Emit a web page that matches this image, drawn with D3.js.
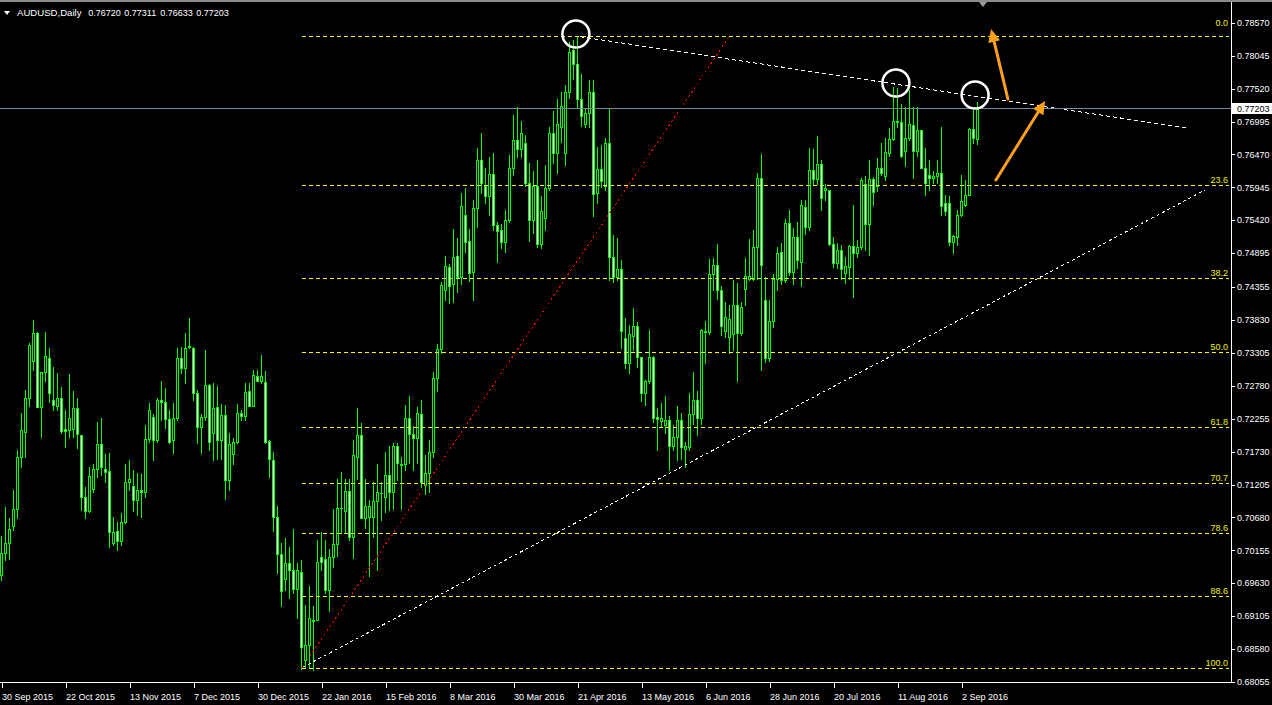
<!DOCTYPE html>
<html><head><meta charset="utf-8">
<script src="https://cdn.jsdelivr.net/npm/d3@7"></script>
<style>
html,body{margin:0;padding:0;background:#000;overflow:hidden}
svg{display:block}
text{font-family:"Liberation Sans",Arial,sans-serif}
</style></head><body>
<svg id="c" width="1272" height="705"></svg>
<script>
// ---------- DATA ----------
const symbolTitle = "AUDUSD,Daily";
const headerValues = ["0.76720","0.77311","0.76633","0.77203"];
const opens = [.6976,.7012,.7028,.7055,.7081,.7164,.7205,.7258,.7317,.7362,.7244,.7300,.7323,.7255,.7246,.7258,.7209,.7208,.7209,.7242,
.7199,.7100,.7079,.7113,.7145,.7185,.7146,.7142,.7027,.7046,.7030,.7060,.7124,.7118,.7095,.7111,.7109,.7193,.7228,.7191,
.7255,.7252,.7225,.7191,.7226,.7322,.7307,.7340,.7338,.7266,.7213,.7228,.7279,.7203,.7244,.7191,.7231,.7127,.7169,.7188,
.7234,.7230,.7270,.7246,.7293,.7285,.7284,.7190,.7160,.7069,.7009,.6969,.6995,.6984,.6954,.6981,.6840,.6864,.6905,.6905,
.7005,.7001,.6953,.7005,.7026,.7083,.7079,.7110,.7037,.7165,.7199,.7067,.7068,.7068,.7094,.7107,.7101,.7136,.7109,.7182,
.7154,.7154,.7226,.7201,.7194,.7233,.7120,.7139,.7173,.7290,.7336,.7430,.7468,.7440,.7485,.7452,.7550,.7509,.7460,.7561,
.7638,.7596,.7580,.7616,.7534,.7526,.7508,.7542,.7625,.7670,.7655,.7666,.7602,.7542,.7597,.7504,.7545,.7593,.7681,.7650,
.7690,.7649,.7746,.7814,.7791,.7735,.7695,.7713,.7746,.7586,.7623,.7596,.7666,.7483,.7452,.7464,.7354,.7315,.7358,.7374,
.7324,.7266,.7286,.7324,.7228,.7222,.7215,.7223,.7182,.7197,.7224,.7177,.7181,.7233,.7256,.7227,.7363,.7364,.7456,.7471,
.7431,.7365,.7356,.7361,.7407,.7362,.7432,.7449,.7449,.7500,.7610,.7415,.7323,.7381,.7449,.7492,.7447,.7537,.7460,.7516,
.7476,.7563,.7531,.7622,.7607,.7632,.7591,.7591,.7504,.7474,.7495,.7458,.7468,.7501,.7490,.7499,.7600,.7536,.7608,.7596,
.7626,.7612,.7650,.7672,.7700,.7699,.7653,.7673,.7694,.7653,.7686,.7625,.7614,.7610,.7612,.7617,.7569,.7569,.7508,.7516,
.7550,.7566,.7582,.7687,.7672];
const highs = [.7038,.7085,.7067,.7112,.7176,.7234,.7271,.7346,.7383,.7364,.7300,.7364,.7338,.7308,.7298,.7276,.7239,.7297,.7269,.7258,
.7199,.7117,.7149,.7154,.7221,.7226,.7169,.7170,.7069,.7061,.7075,.7154,.7160,.7144,.7139,.7138,.7216,.7250,.7233,.7258,
.7285,.7274,.7239,.7250,.7338,.7340,.7362,.7386,.7340,.7272,.7233,.7335,.7281,.7283,.7278,.7249,.7247,.7202,.7194,.7249,
.7239,.7282,.7282,.7303,.7303,.7327,.7302,.7191,.7173,.7086,.7027,.7035,.7021,.7049,.6996,.7000,.6928,.6958,.6926,.7032,
.7045,.7032,.7017,.7081,.7129,.7140,.7129,.7130,.7192,.7242,.7219,.7130,.7096,.7125,.7153,.7125,.7173,.7182,.7187,.7186,
.7165,.7247,.7261,.7214,.7244,.7256,.7168,.7192,.7300,.7345,.7444,.7485,.7473,.7528,.7513,.7585,.7593,.7528,.7575,.7657,
.7681,.7626,.7643,.7649,.7539,.7536,.7558,.7646,.7710,.7722,.7701,.7678,.7633,.7621,.7638,.7580,.7630,.7691,.7717,.7736,
.7747,.7758,.7827,.7830,.7835,.7776,.7719,.7765,.7766,.7659,.7662,.7673,.7719,.7519,.7513,.7479,.7386,.7375,.7402,.7380,
.7324,.7287,.7367,.7325,.7242,.7250,.7261,.7229,.7215,.7245,.7235,.7189,.7267,.7300,.7270,.7369,.7382,.7480,.7481,.7504,
.7437,.7412,.7407,.7447,.7442,.7412,.7482,.7512,.7526,.7617,.7648,.7452,.7415,.7457,.7500,.7505,.7544,.7558,.7530,.7540,
.7574,.7575,.7658,.7656,.7677,.7638,.7600,.7591,.7516,.7505,.7503,.7484,.7503,.7566,.7510,.7609,.7612,.7638,.7611,.7641,
.7666,.7673,.7689,.7755,.7753,.7728,.7723,.7750,.7723,.7723,.7686,.7657,.7638,.7620,.7638,.7691,.7582,.7580,.7518,.7558,
.7614,.7606,.7689,.7718,.7731];
const lows = [.6968,.7000,.7001,.7048,.7067,.7149,.7164,.7245,.7303,.7244,.7197,.7285,.7252,.7239,.7239,.7202,.7181,.7197,.7197,.7178,
.7080,.7067,.7077,.7108,.7133,.7136,.7125,.7021,.7024,.7016,.7024,.7059,.7112,.7079,.7072,.7068,.7101,.7189,.7159,.7189,
.7223,.7210,.7186,.7171,.7223,.7299,.7283,.7338,.7256,.7187,.7171,.7223,.7176,.7160,.7161,.7161,.7097,.7112,.7153,.7187,
.7223,.7223,.7245,.7245,.7285,.7283,.7186,.7132,.7047,.6980,.6926,.6952,.6939,.6947,.6907,.6827,.6830,.6830,.6825,.6904,
.6984,.6947,.6918,.6989,.7006,.7043,.7043,.7032,.7003,.7130,.7067,.7051,.6974,.7037,.6984,.7064,.7077,.7080,.7082,.7128,
.7082,.7144,.7155,.7144,.7155,.7117,.7106,.7108,.7165,.7270,.7330,.7415,.7410,.7411,.7427,.7441,.7492,.7445,.7414,.7531,
.7585,.7569,.7550,.7526,.7476,.7497,.7492,.7540,.7614,.7643,.7643,.7596,.7509,.7521,.7500,.7497,.7527,.7590,.7633,.7618,
.7667,.7630,.7737,.7767,.7723,.7693,.7691,.7691,.7548,.7569,.7595,.7590,.7447,.7444,.7447,.7338,.7306,.7298,.7335,.7308,
.7253,.7247,.7282,.7221,.7176,.7213,.7202,.7144,.7176,.7160,.7161,.7149,.7176,.7217,.7199,.7217,.7314,.7361,.7430,.7416,
.7359,.7356,.7330,.7335,.7285,.7359,.7407,.7447,.7447,.7449,.7303,.7316,.7318,.7372,.7431,.7440,.7444,.7455,.7440,.7466,
.7437,.7520,.7527,.7600,.7600,.7558,.7575,.7503,.7468,.7466,.7449,.7442,.7449,.7420,.7484,.7496,.7495,.7487,.7566,.7588,
.7614,.7606,.7644,.7670,.7690,.7643,.7628,.7670,.7609,.7645,.7625,.7582,.7590,.7601,.7601,.7550,.7550,.7502,.7489,.7503,
.7548,.7564,.7582,.7665,.7663];
const closes = [.7012,.7028,.7049,.7081,.7164,.7207,.7258,.7343,.7362,.7244,.7300,.7326,.7266,.7248,.7258,.7206,.7206,.7226,.7242,.7201,
.7100,.7079,.7134,.7145,.7185,.7148,.7141,.7045,.7045,.7030,.7060,.7124,.7129,.7095,.7111,.7109,.7193,.7239,.7191,.7255,
.7252,.7225,.7189,.7226,.7322,.7307,.7339,.7341,.7266,.7213,.7228,.7279,.7189,.7242,.7191,.7231,.7127,.7185,.7188,.7234,
.7230,.7268,.7246,.7295,.7285,.7293,.7189,.7161,.7069,.7009,.6950,.6995,.6984,.6954,.6984,.6862,.6864,.6907,.6903,.6997,
.6997,.6953,.7005,.7026,.7083,.7083,.7110,.7036,.7168,.7199,.7067,.7086,.7086,.7094,.7108,.7107,.7136,.7109,.7182,.7155,
.7151,.7226,.7201,.7194,.7234,.7125,.7139,.7173,.7290,.7336,.7439,.7469,.7437,.7483,.7452,.7565,.7508,.7458,.7561,.7638,
.7602,.7580,.7616,.7534,.7525,.7508,.7542,.7625,.7670,.7655,.7681,.7601,.7542,.7597,.7504,.7556,.7593,.7681,.7650,.7695,
.7724,.7747,.7811,.7792,.7736,.7708,.7713,.7746,.7584,.7623,.7604,.7666,.7483,.7452,.7464,.7366,.7314,.7360,.7374,.7324,
.7266,.7286,.7324,.7226,.7225,.7226,.7223,.7182,.7197,.7224,.7181,.7182,.7233,.7255,.7227,.7367,.7366,.7456,.7471,.7430,
.7373,.7387,.7385,.7407,.7362,.7403,.7453,.7453,.7500,.7610,.7471,.7322,.7381,.7449,.7490,.7447,.7537,.7460,.7516,.7478,
.7566,.7531,.7622,.7607,.7632,.7578,.7593,.7504,.7474,.7495,.7464,.7469,.7501,.7490,.7499,.7606,.7536,.7608,.7587,.7626,
.7617,.7651,.7672,.7700,.7698,.7645,.7673,.7695,.7653,.7686,.7626,.7601,.7610,.7612,.7617,.7564,.7556,.7508,.7517,.7550,
.7573,.7583,.7687,.7673,.7720];
const dateLabels = ["30 Sep 2015","22 Oct 2015","13 Nov 2015","7 Dec 2015","30 Dec 2015","22 Jan 2016","15 Feb 2016","8 Mar 2016",
"30 Mar 2016","21 Apr 2016","13 May 2016","6 Jun 2016","28 Jun 2016","20 Jul 2016","11 Aug 2016","2 Sep 2016"];
const dateBarIndex = [0,16,32,48,64,80,96,112,128,144,160,176,192,208,224,240];
const priceTicks = [0.78570,0.78045,0.77520,0.76995,0.76470,0.75945,0.75420,0.74895,0.74355,0.73830,0.73305,
0.72780,0.72255,0.71730,0.71205,0.70680,0.70155,0.69630,0.69105,0.68580,0.68055];
const lastPrice = 0.77203;
const fibLevels = [0.0,23.6,38.2,50.0,61.8,70.7,78.6,88.6,100.0];
const fibHigh = 0.78358, fibLow = 0.68272;
const fibAnchorLow = 75, fibAnchorHigh = 182;       // bar indices of the fib anchors
const upperTrend = [{i:144.6,p:0.78348},{i:296.4,p:0.76891}];
const lowerTrend = [{i:75.3,p:0.68290},{i:300.9,p:0.75903}];
const circleMarks = [{i:143.6,p:0.78391},{i:223.6,p:0.77609},{i:243.4,p:0.77418}];
const arrowMarks = [
  {from:{i:251.6,p:0.77354}, to:{i:247.4,p:0.78470}},
  {from:{i:248.6,p:0.76062}, to:{i:260.9,p:0.77322}}
];

// ---------- SCALES ----------
const svg = d3.select("#c");
const plotRight = 1231, plotBottom = 682;
const x = d3.scaleLinear().domain([0,244]).range([1.5,977.5]);
const y = d3.scaleLinear().domain([0.68055,0.78933]).range([682,0]);
const GREEN = "#00ff00";

svg.append("rect").attr("width",1272).attr("height",705).attr("fill","#000");
svg.append("rect").attr("x",0).attr("y",0).attr("width",1272).attr("height",2).attr("fill","#8c8c8c");

// ---------- CANDLES ----------
const bars = opens.map((o,i)=>({i,o,h:highs[i],l:lows[i],c:closes[i]}));
const cg = svg.append("g").attr("shape-rendering","crispEdges");
const cand = cg.selectAll("g").data(bars).join("g");
cand.append("rect")
  .attr("x",d=>Math.round(x(d.i)-0.5))
  .attr("y",d=>Math.round(y(d.h)))
  .attr("width",1)
  .attr("height",d=>Math.max(1,Math.round(y(d.l))-Math.round(y(d.h))+1))
  .attr("fill",GREEN);
cand.append("rect")
  .attr("x",d=>Math.round(x(d.i)-0.5)-1)
  .attr("y",d=>Math.round(y(Math.max(d.o,d.c))))
  .attr("width",3)
  .attr("height",d=>Math.max(1,Math.round(y(Math.min(d.o,d.c)))-Math.round(y(Math.max(d.o,d.c)))+1))
  .attr("fill",GREEN);
cand.filter(d=>Math.round(y(Math.min(d.o,d.c)))-Math.round(y(Math.max(d.o,d.c)))>=2)
  .append("rect")
  .attr("x",d=>Math.round(x(d.i)-0.5))
  .attr("y",d=>Math.round(y(Math.max(d.o,d.c)))+1)
  .attr("width",1)
  .attr("height",d=>Math.round(y(Math.min(d.o,d.c)))-Math.round(y(Math.max(d.o,d.c)))-1)
  .attr("fill",d=>d.c>=d.o?"#000":"#fff");

// ---------- FIBONACCI ----------
const fg = svg.append("g");
const fibPrice = L => fibHigh - (fibHigh-fibLow)*L/100;
fg.selectAll("line.fib").data(fibLevels).join("line")
  .attr("x1",x(fibAnchorLow)).attr("x2",plotRight-2)
  .attr("y1",L=>Math.round(y(fibPrice(L)))+0.5).attr("y2",L=>Math.round(y(fibPrice(L)))+0.5)
  .attr("stroke","#ffff00").attr("stroke-width",1).attr("stroke-dasharray","4,3")
  .attr("shape-rendering","crispEdges");
fg.selectAll("text.fib").data(fibLevels).join("text")
  .attr("x",plotRight-3)
  .attr("y",L=> L===0 ? Math.round(y(fibPrice(L)))-10.5 : Math.round(y(fibPrice(L)))-2.5)
  .attr("text-anchor","end").attr("fill","#f0f000").attr("font-size","9px")
  .text(L=>L.toFixed(1));
fg.append("line")
  .attr("x1",x(fibAnchorLow)).attr("y1",y(fibLow))
  .attr("x2",x(fibAnchorHigh)).attr("y2",y(fibHigh))
  .attr("stroke","#ff0000").attr("stroke-width",1).attr("stroke-dasharray","2,3")
  .attr("shape-rendering","crispEdges");

// ---------- TRENDLINES ----------
svg.append("line")
  .attr("x1",x(upperTrend[0].i)).attr("y1",y(upperTrend[0].p))
  .attr("x2",x(upperTrend[1].i)).attr("y2",y(upperTrend[1].p))
  .attr("stroke","#fff").attr("stroke-width",1).attr("stroke-dasharray","4,3")
  .attr("shape-rendering","crispEdges");
svg.append("line")
  .attr("x1",x(lowerTrend[0].i)).attr("y1",y(lowerTrend[0].p))
  .attr("x2",x(lowerTrend[1].i)).attr("y2",y(lowerTrend[1].p))
  .attr("stroke","#fff").attr("stroke-width",1).attr("stroke-dasharray","3,3")
  .attr("shape-rendering","crispEdges");

// ---------- BID LINE ----------
svg.append("line").attr("x1",0).attr("x2",plotRight)
  .attr("y1",Math.round(y(lastPrice))+0.5).attr("y2",Math.round(y(lastPrice))+0.5)
  .attr("stroke","#778899").attr("stroke-width",1);

// ---------- CIRCLES ----------
svg.selectAll("circle.mark").data(circleMarks).join("circle")
  .attr("cx",d=>x(d.i)).attr("cy",d=>y(d.p)).attr("r",13.5)
  .attr("fill","none").attr("stroke","#fff").attr("stroke-width",2.5);

// ---------- ARROWS ----------
const ORANGE = "#ffa01c";
arrowMarks.forEach(a=>{
  const x1=x(a.from.i), y1=y(a.from.p), x2=x(a.to.i), y2=y(a.to.p);
  const ang=Math.atan2(y2-y1,x2-x1), len=13, wid=6;
  const bx=x2-len*Math.cos(ang), by=y2-len*Math.sin(ang);
  svg.append("line").attr("x1",x1).attr("y1",y1).attr("x2",bx).attr("y2",by)
    .attr("stroke",ORANGE).attr("stroke-width",3).attr("stroke-linecap","round");
  const px=-Math.sin(ang)*wid, py=Math.cos(ang)*wid;
  svg.append("polygon").attr("points",`${x2},${y2} ${bx+px},${by+py} ${bx-px},${by-py}`).attr("fill",ORANGE);
});

// ---------- AXES FRAME ----------
svg.append("line").attr("x1",plotRight+0.5).attr("x2",plotRight+0.5).attr("y1",2).attr("y2",plotBottom+1)
  .attr("stroke","#fff");
svg.append("line").attr("x1",0).attr("x2",plotRight+1).attr("y1",plotBottom+0.5).attr("y2",plotBottom+0.5)
  .attr("stroke","#fff");

// price axis
const pa = svg.append("g");
pa.selectAll("line").data(priceTicks).join("line")
  .attr("x1",plotRight).attr("x2",plotRight+4)
  .attr("y1",p=>Math.round(y(p))+0.5).attr("y2",p=>Math.round(y(p))+0.5).attr("stroke","#fff");
pa.selectAll("text").data(priceTicks).join("text")
  .attr("x",plotRight+6).attr("y",p=>y(p)+3.2)
  .attr("fill","#fff").attr("font-size","9px").text(p=>p.toFixed(5));

// current price box
svg.append("rect").attr("x",plotRight+1).attr("y",Math.round(y(lastPrice))-5).attr("width",40).attr("height",11).attr("fill","#fff");
svg.append("text").attr("x",plotRight+6).attr("y",y(lastPrice)+3.2).attr("fill","#000").attr("font-size","9px").text(lastPrice.toFixed(5));

// time axis
const ta = svg.append("g");
ta.selectAll("line").data(dateBarIndex).join("line")
  .attr("x1",i=>Math.round(x(i))+0.5).attr("x2",i=>Math.round(x(i))+0.5)
  .attr("y1",plotBottom).attr("y2",plotBottom+6).attr("stroke","#fff");
ta.selectAll("text").data(dateBarIndex).join("text")
  .attr("x",i=>x(i)+0.5).attr("y",plotBottom+18)
  .attr("fill","#fff").attr("font-size","9px").text((i,k)=>dateLabels[k]);

// header
svg.append("polygon").attr("points","4,11 10,11 7,15").attr("fill","#fff");
svg.append("text").attr("x",17).attr("y",15.5).attr("fill","#fff").attr("font-size","9.6px").text(symbolTitle);
svg.selectAll("text.hv").data(headerValues).join("text")
  .attr("x",(d,k)=>88.3+k*36).attr("y",15.5).attr("fill","#fff").attr("font-size","9px").text(d=>d);

// chart shift marker
svg.append("polygon").attr("points","979,2 987,2 983,7").attr("fill","#9a9a9a");
</script>
</body></html>
